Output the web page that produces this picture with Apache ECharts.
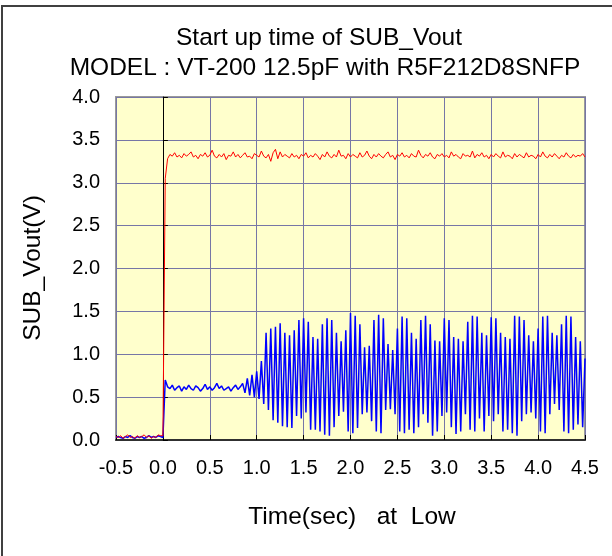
<!DOCTYPE html>
<html>
<head>
<meta charset="utf-8">
<script src="https://cdn.jsdelivr.net/npm/echarts@6/dist/echarts.min.js"></script>
<style>
  html, body { margin: 0; padding: 0; background: #ffffff; }
  #chart { width: 612px; height: 556px; }
</style>
</head>
<body>
<div id="chart"></div>
<script>
// ---- data ----
const titleLines = ['Start up time of SUB_Vout', 'MODEL : VT-200 12.5pF with R5F212D8SNFP'];
const xAxisName = 'Time(sec)   at  Low';
const yAxisName = 'SUB_Vout(V)';
const xTicks = [-0.5, 0.0, 0.5, 1.0, 1.5, 2.0, 2.5, 3.0, 3.5, 4.0, 4.5];
const yTicks = [0.0, 0.5, 1.0, 1.5, 2.0, 2.5, 3.0, 3.5, 4.0];
const timeStart = -0.5;   // seconds, first sample
const timeStep = 0.025;   // seconds between samples

const redValues = [
  0.04,0.03,0.05,0.02,0.04,0.06,0.03,0.04,0.02,0.05,0.03,0.04,0.06,0.03,0.05,0.02,0.04,0.03,0.06,0.05,
  0.05,3.05,3.28,
  3.33,3.31,3.35,3.30,3.32,3.29,3.34,3.31,3.33,3.36,3.30,3.32,3.28,3.33,3.31,3.35,3.30,3.32,3.38,3.31,
  3.29,3.33,3.30,3.34,3.27,3.32,3.31,3.36,3.30,3.33,3.29,3.32,3.35,3.30,3.31,3.28,3.34,3.32,3.30,3.37,
  3.31,3.29,3.33,3.25,3.35,3.39,3.28,3.36,3.30,3.33,3.31,3.29,3.34,3.30,3.32,3.28,3.33,3.31,3.35,3.29,
  3.32,3.30,3.34,3.31,3.27,3.33,3.30,3.36,3.31,3.29,3.33,3.30,3.38,3.31,3.32,3.28,3.34,3.30,3.33,3.31,
  3.29,3.35,3.30,3.32,3.37,3.31,3.28,3.33,3.30,3.34,3.31,3.29,3.33,3.36,3.30,3.32,3.27,3.33,3.31,3.35,
  3.30,3.32,3.29,3.34,3.31,3.30,3.38,3.32,3.29,3.33,3.31,3.35,3.30,3.28,3.33,3.31,3.34,3.30,3.32,3.29,
  3.36,3.31,3.33,3.30,3.28,3.34,3.31,3.32,3.30,3.37,3.29,3.33,3.31,3.35,3.30,3.32,3.28,3.33,3.30,3.34,
  3.31,3.29,3.36,3.30,3.32,3.31,3.28,3.34,3.30,3.33,3.31,3.29,3.35,3.30,3.32,3.31,3.28,3.33,3.30,3.36,
  3.31,3.29,3.33,3.30,3.34,3.31,3.28,3.32,3.30,3.35,3.31,3.29,3.33,3.30,3.32,3.31,3.34,3.30
];

const blueValues = [
  0.03,0.04,0.03,0.02,0.04,0.03,0.05,0.03,0.02,0.04,0.03,0.04,0.02,0.03,0.05,0.03,0.04,0.03,0.05,0.04,
  0.03,
  0.70,0.62,0.60,0.64,0.58,0.61,0.63,0.57,0.62,0.59,0.64,0.60,0.58,0.63,0.61,0.57,0.60,0.65,0.59,0.62,
  0.58,0.61,0.66,0.60,0.63,0.58,0.60,0.62,0.57,0.61,0.64,0.59,0.62,0.66,
  0.55,0.72,0.52,0.76,0.50,0.80,
  0.48,0.92,0.42,1.25,0.35,1.30,
  0.23,1.32,0.20,1.36,0.16,1.25,
  0.15,1.22,0.14,1.28,0.28,1.40,
  0.25,1.42,0.32,1.38,0.12,1.20,
  0.12,1.18,0.10,1.35,0.06,1.42,
  0.05,1.40,0.15,1.25,0.28,1.15,
  0.33,1.28,0.10,1.48,0.08,1.45,
  0.14,1.35,0.30,1.08,0.32,1.10,
  0.22,1.40,0.10,1.46,0.08,1.42,
  0.35,1.12,0.36,1.05,0.30,1.30,
  0.10,1.44,0.08,1.42,0.12,1.25,
  0.08,1.18,0.15,1.40,0.30,1.45,
  0.20,1.35,0.05,1.16,0.10,1.15,
  0.28,1.42,0.32,1.40,0.15,1.20,
  0.07,1.18,0.10,1.15,0.30,1.38,
  0.12,1.45,0.10,1.44,0.25,1.25,
  0.10,1.22,0.28,1.43,0.22,1.42,
  0.30,1.25,0.10,1.20,0.12,1.18,
  0.08,1.45,0.05,1.44,0.22,1.40,
  0.30,1.22,0.32,1.15,0.25,1.30,
  0.10,1.44,0.08,1.45,0.30,1.25,
  0.42,1.22,0.35,1.35,0.10,1.45,
  0.08,1.44,0.12,1.20,0.18,1.15,
  0.15,0.95
];

// ---- build ----
function toPairs(vals) {
  return vals.map((v, i) => [+(timeStart + i * timeStep).toFixed(4), v]);
}

const FONT = '"Liberation Sans", Arial, sans-serif';
const chart = echarts.init(document.getElementById('chart'), null, { renderer: 'canvas' });

const grid = { left: 116, top: 97, right: 27, bottom: 116 };

chart.setOption({
  animation: false,
  backgroundColor: '#ffffff',
  grid: Object.assign({ show: true, backgroundColor: '#FFFFCC', borderColor: '#9a9a9a', borderWidth: 2 }, grid),
  xAxis: {
    type: 'value',
    min: xTicks[0], max: xTicks[xTicks.length - 1], interval: 0.5,
    axisLine: { onZero: false, lineStyle: { color: '#303030', width: 2 } },
    axisTick: { inside: true, length: 5, lineStyle: { color: '#000', width: 1 } },
    splitLine: { show: true, lineStyle: { color: '#7676A6', width: 1 } },
    axisLabel: { color: '#000', fontFamily: FONT, fontSize: 20, margin: 18,
      formatter: v => v.toFixed(1) }
  },
  yAxis: [{
    type: 'value',
    min: yTicks[0], max: yTicks[yTicks.length - 1], interval: 0.5,
    axisLine: { show: false, onZero: false },
    axisTick: { show: false },
    splitLine: { show: true, lineStyle: { color: '#7676A6', width: 1 } },
    axisLabel: { color: '#000', fontFamily: FONT, fontSize: 20, margin: 16,
      formatter: v => v.toFixed(1) }
  }, {
    type: 'value',
    position: 'left',
    min: yTicks[0], max: yTicks[yTicks.length - 1], interval: 0.5,
    axisLine: { show: true, onZero: true, lineStyle: { color: '#000', width: 1 } },
    axisTick: { show: true, inside: true, length: 5, lineStyle: { color: '#000', width: 1 } },
    splitLine: { show: false },
    axisLabel: { show: false }
  }],
  series: [{
    type: 'line', name: 'blue', data: toPairs(blueValues), showSymbol: false,
    lineStyle: { color: '#0000FF', width: 1.5 }, itemStyle: { color: '#0000FF' }, z: 3
  }, {
    type: 'line', name: 'red', data: toPairs(redValues), showSymbol: false,
    lineStyle: { color: '#FF0000', width: 1 }, itemStyle: { color: '#FF0000' }, z: 4
  }],
  graphic: [
    { type: 'rect', shape: { x: 2, y: 6, width: 700, height: 700 }, style: { fill: null, stroke: '#404040', lineWidth: 2 }, silent: true, z: 100 },
    { type: 'text', x: 319, y: 38, style: { text: titleLines[0], font: '24.5px ' + FONT, fill: '#000', textAlign: 'center', textVerticalAlign: 'middle' } },
    { type: 'text', x: 325, y: 68, style: { text: titleLines[1], font: '24.5px ' + FONT, fill: '#000', textAlign: 'center', textVerticalAlign: 'middle' } },
    { type: 'text', x: 352, y: 517, style: { text: xAxisName, font: '24.5px ' + FONT, fill: '#000', textAlign: 'center', textVerticalAlign: 'middle' } },
    { type: 'text', x: 33, y: 268, rotation: Math.PI / 2, style: { text: yAxisName, font: '24.5px ' + FONT, fill: '#000', textAlign: 'center', textVerticalAlign: 'middle' } }
  ]
});
</script>
</body>
</html>
